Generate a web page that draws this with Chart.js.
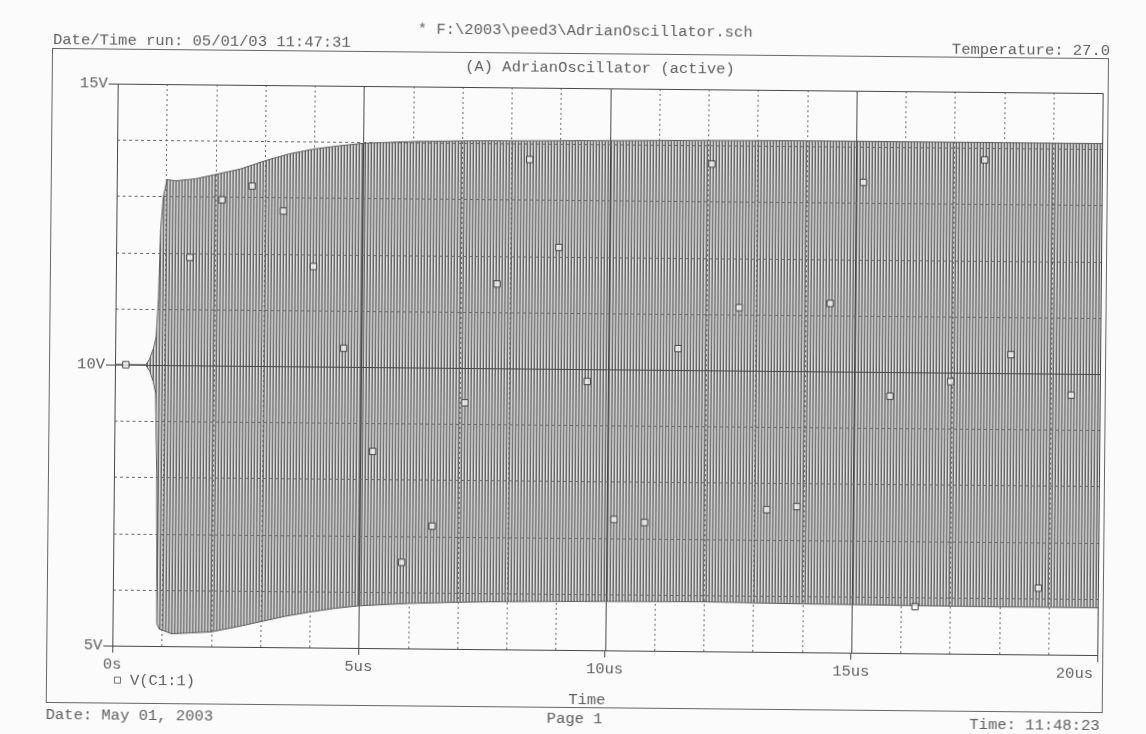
<!DOCTYPE html>
<html>
<head>
<meta charset="utf-8">
<script src="https://cdn.jsdelivr.net/npm/chart.js@4.4.0/dist/chart.umd.min.js"></script>
<style>
    html, body { margin: 0; padding: 0; background: #fbfbfb; overflow: hidden; }
    /* the scanned printout is a little crooked */
    #wrap { width: 1146px; height: 734px; transform: rotate(0.55deg); transform-origin: 573px 367px; }
</style>
</head>
<body>
<div id="wrap"><canvas id="chart" width="1146" height="734"></canvas></div>
<script>
// envelope of V(C1:1) (time in us, volts)
const envTime  = [0, 0.62, 0.7, 0.78, 0.83, 0.87, 0.9, 0.95, 1.02, 1.2, 1.6, 2.0, 2.5, 3.0, 3.5, 4.0, 4.5, 5.0, 6.0, 7.0, 8.0, 10.0, 12.0, 14.0, 16.0, 18.0, 20.0];
const envUpper = [10, 10, 10.1, 10.3, 10.5, 11.2, 12.4, 13.0, 13.3, 13.28, 13.32, 13.4, 13.5, 13.65, 13.78, 13.87, 13.93, 13.98, 14.02, 14.04, 14.05, 14.07, 14.09, 14.1, 14.1, 14.1, 14.1];
const envLower = [10, 10, 9.9, 9.7, 9.5, 8.0, 5.4, 5.3, 5.28, 5.22, 5.24, 5.26, 5.35, 5.45, 5.55, 5.63, 5.7, 5.75, 5.8, 5.83, 5.85, 5.87, 5.88, 5.86, 5.85, 5.84, 5.84];

// trace symbols (little squares) along the waveform
const markTime = [0.22, 1.50, 2.14, 2.75, 3.39, 4.01, 4.64, 5.25, 5.86, 6.47, 7.11, 7.74, 8.38, 8.99, 9.59, 10.16, 10.78, 11.43, 12.08, 12.66, 13.26, 13.87, 14.51, 15.16, 15.74, 16.29, 16.97, 17.62, 18.19, 18.79, 19.42];
const markVolt = [10.0, 11.92, 12.95, 13.2, 12.76, 11.78, 10.33, 8.5, 6.53, 7.18, 9.38, 11.5, 13.72, 12.16, 9.78, 7.33, 7.28, 10.38, 13.67, 11.12, 7.53, 7.59, 11.21, 13.37, 9.57, 5.83, 9.84, 13.79, 10.33, 6.18, 9.62];

// axes
const xTicks = [0, 5, 10, 15, 20];
const xTickLabels = ['0s', '5us', '10us', '15us', '20us'];
const yTicks = [5, 10, 15];
const xGrid = [1, 2, 3, 4, 5, 6, 7, 8, 9, 10, 11, 12, 13, 14, 15, 16, 17, 18, 19];
const yGrid = [6, 7, 8, 9, 10, 11, 12, 13, 14];

const MONO = '"Liberation Mono", "DejaVu Sans Mono", monospace';
const TEXT = '#5e5e5e';
const INK = '#474747';

// dense oscillation shows up as packed vertical strokes
function stripePattern() {
    const c = document.createElement('canvas');
    c.width = 3;
    c.height = 4;
    const g = c.getContext('2d');
    const cols = ['#666666', '#dedede', '#a8a8a8'];
    cols.forEach((col, i) => {
        g.fillStyle = col;
        g.fillRect(i, 0, 1, 4);
    });
    return g.createPattern(c, 'repeat');
}

const toXY = (xs, ys) => xs.map((x, i) => ({ x: x, y: ys[i] }));

const gridPlugin = {
    id: 'pspiceGrid',
    afterDatasetDraw(chart, args) {
        if (args.index !== 1) return;
        const { ctx, chartArea: a } = chart;
        const sx = chart.scales.x, sy = chart.scales.y;
        ctx.save();
        ctx.lineWidth = 1;
        xGrid.forEach(t => {
            const px = Math.round(sx.getPixelForValue(t)) + 0.5;
            const solid = t % 5 === 0;
            ctx.setLineDash(solid ? [] : [2, 3]);
            ctx.strokeStyle = solid ? INK : '#6a6a6a';
            ctx.beginPath();
            ctx.moveTo(px, a.top);
            ctx.lineTo(px, a.bottom);
            ctx.stroke();
        });
        yGrid.forEach(v => {
            const py = Math.round(sy.getPixelForValue(v)) + 0.5;
            const solid = v === 10;
            ctx.setLineDash(solid ? [] : [3, 3]);
            ctx.strokeStyle = solid ? INK : '#6a6a6a';
            ctx.beginPath();
            ctx.moveTo(a.left, py);
            ctx.lineTo(a.right, py);
            ctx.stroke();
        });
        ctx.restore();
    },
    afterDraw(chart) {
        const { ctx, chartArea: a } = chart;
        const sx = chart.scales.x;
        ctx.save();
        ctx.strokeStyle = INK;
        ctx.lineWidth = 1;
        ctx.setLineDash([]);
        // plot box
        ctx.strokeRect(Math.round(a.left) + 0.5, Math.round(a.top) + 0.5,
            Math.round(a.right - a.left), Math.round(a.bottom - a.top));
        // page frame
        ctx.strokeStyle = '#666';
        ctx.strokeRect(49.5, 53.5, 1056, 654);

        ctx.fillStyle = TEXT;
        ctx.font = '15.5px ' + MONO;
        ctx.textBaseline = 'alphabetic';

        // x tick labels
        xTicks.forEach((t, i) => {
            const px = sx.getPixelForValue(t);
            const last = i === xTicks.length - 1;
            ctx.textAlign = last ? 'right' : 'center';
            ctx.fillText(xTickLabels[i], last ? px - 4 : px, 673);
        });

        ctx.textAlign = 'left';
        ctx.fillText('Date/Time run: 05/01/03 11:47:31', 50, 49);
        ctx.fillText('Date: May 01, 2003', 49, 724);
        ctx.fillText('V(C1:1)', 133, 689);
        ctx.textAlign = 'center';
        ctx.fillText('* F:\\2003\\peed3\\AdrianOscillator.sch', 582, 35);
        ctx.fillText('(A) AdrianOscillator (active)', 597, 72);
        ctx.fillText('Time', 590, 704);
        ctx.fillText('Page 1', 578, 723);
        ctx.textAlign = 'right';
        ctx.fillText('Temperature: 27.0', 1107, 50);
        ctx.fillText('Time: 11:48:23', 1103, 725);

        // legend symbol
        ctx.strokeStyle = '#777';
        ctx.strokeRect(117.5, 681.5, 6, 6);
        ctx.restore();
    }
};

new Chart(document.getElementById('chart'), {
    type: 'line',
    data: {
        datasets: [
            {
                label: 'markers',
                data: toXY(markTime, markVolt),
                showLine: false,
                pointStyle: 'rect',
                pointRadius: 4.5,
                pointBorderWidth: 1,
                pointBorderColor: '#444',
                pointBackgroundColor: 'rgba(250,250,250,0.75)',
                order: 0
            },
            {
                label: 'V(C1:1) upper',
                data: toXY(envTime, envUpper),
                borderColor: '#5c5c5c',
                borderWidth: 1,
                pointRadius: 0,
                tension: 0,
                fill: '+1',
                backgroundColor: stripePattern(),
                order: 2
            },
            {
                label: 'V(C1:1) lower',
                data: toXY(envTime, envLower),
                borderColor: '#5c5c5c',
                borderWidth: 1,
                pointRadius: 0,
                tension: 0,
                fill: false,
                order: 1
            }
        ]
    },
    options: {
        responsive: false,
        animation: false,
        events: [],
        layout: { padding: { left: 0, top: 88, right: 46, bottom: 0 } },
        plugins: {
            legend: { display: false },
            tooltip: { enabled: false }
        },
        scales: {
            x: {
                type: 'linear',
                min: 0,
                max: 20,
                afterBuildTicks: s => { s.ticks = xTicks.map(v => ({ value: v })); },
                afterFit: s => { s.height = 84; },
                ticks: { display: false },
                grid: { drawOnChartArea: false, drawTicks: true, tickLength: 7, tickColor: INK },
                border: { display: false }
            },
            y: {
                type: 'linear',
                min: 5,
                max: 15,
                afterBuildTicks: s => { s.ticks = yTicks.map(v => ({ value: v })); },
                afterFit: s => { s.width = 115; },
                ticks: {
                    callback: v => v + 'V',
                    color: TEXT,
                    padding: 1,
                    font: { family: MONO, size: 15.5 }
                },
                grid: { drawOnChartArea: false, drawTicks: true, tickLength: 9, tickColor: INK },
                border: { display: false }
            }
        }
    },
    plugins: [gridPlugin]
});
</script>
</body>
</html>
